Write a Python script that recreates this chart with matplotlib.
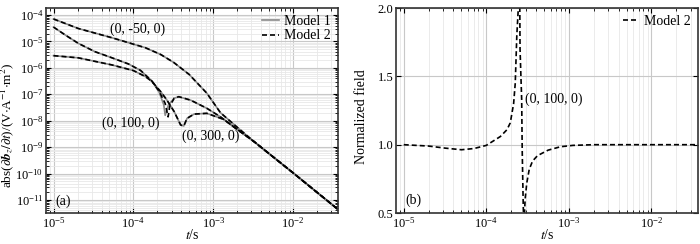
import numpy as np
from matplotlib import pyplot as plt
from matplotlib.ticker import LogLocator, NullFormatter

plt.rcParams['font.family'] = ['Liberation Serif', 'DejaVu Serif']
plt.rcParams['mathtext.fontset'] = 'stix'
plt.rcParams['font.size'] = 10

# (a) abs(dbz/dt), Model 1
t_50 = [1.0e-5, 2.04e-5, 5.4e-5, 1.41e-4, 2.2e-4, 3.2e-4, 5.0e-4, 8.3e-4, 1.23e-3, 2.0e-3, 3.2e-3, 1.0e-2, 3.6e-2]
b_50 = [7.1e-5, 3.1e-5, 1.38e-5, 5.8e-6, 3.2e-6, 1.6e-6, 5.6e-7, 1.1e-7, 2.0e-8, 5.6e-9, 1.66e-9, 1.05e-10, 4.5e-12]

t_100 = [1.0e-5, 1.41e-5, 2.04e-5, 3.3e-5, 5.4e-5, 8.7e-5, 1.23e-4, 1.7e-4, 2.1e-4, 2.4e-4, 2.5e-4,
         2.75e-4, 3.24e-4, 3.7e-4, 5.2e-4, 8.3e-4, 1.23e-3, 2.0e-3, 3.2e-3, 1.0e-2, 3.6e-2]
b_100 = [3.5e-5, 1.74e-5, 8.5e-6, 4.1e-6, 2.4e-6, 1.4e-6, 8.0e-7, 3.2e-7, 1.2e-7, 4.0e-8, 1.6e-8,
         4.0e-8, 7.1e-8, 8.1e-8, 6.0e-8, 2.95e-8, 1.4e-8, 4.6e-9, 1.66e-9, 1.05e-10, 4.5e-12]
# Model 2 for (0, 100, 0): zero crossing a little later
t_100_m2 = [1.0e-5, 1.41e-5, 2.04e-5, 3.3e-5, 5.4e-5, 8.7e-5, 1.23e-4, 1.7e-4, 2.1e-4, 2.5e-4, 2.72e-4,
            2.85e-4, 3.24e-4, 3.7e-4, 5.2e-4, 8.3e-4, 1.23e-3, 2.0e-3, 3.2e-3, 1.0e-2, 3.6e-2]
b_100_m2 = [3.5e-5, 1.74e-5, 8.5e-6, 4.1e-6, 2.4e-6, 1.4e-6, 8.0e-7, 3.2e-7, 1.3e-7, 4.5e-8, 1.4e-8,
            3.5e-8, 7.1e-8, 8.1e-8, 6.0e-8, 2.95e-8, 1.4e-8, 4.6e-9, 1.66e-9, 1.05e-10, 4.5e-12]

t_300 = [1.0e-5, 2.04e-5, 5.4e-5, 1.0e-4, 1.41e-4, 1.7e-4, 2.2e-4, 2.63e-4, 3.24e-4, 3.9e-4, 4.27e-4,
         4.7e-4, 5.75e-4, 8.3e-4, 1.35e-3, 2.0e-3, 3.2e-3, 1.0e-2, 3.6e-2]
b_300 = [2.9e-6, 2.4e-6, 1.29e-6, 7.9e-7, 4.7e-7, 3.1e-7, 1.25e-7, 6.0e-8, 2.2e-8, 6.9e-9, 6.3e-9,
         1.23e-8, 1.78e-8, 1.9e-8, 1.12e-8, 4.7e-9, 1.66e-9, 1.05e-10, 4.5e-12]

# (b) normalized field (Model 2 / Model 1) at (0, 100, 0)
t_norm = [1.0e-5, 2.0e-5, 3.16e-5, 5.0e-5, 7.1e-5, 1.0e-4, 1.48e-4, 1.78e-4, 1.95e-4, 2.14e-4, 2.24e-4,
          2.34e-4, 2.44e-4, 2.51e-4, 2.56e-4, 2.68e-4, 2.72e-4, 2.80e-4, 2.85e-4, 2.95e-4, 3.09e-4,
          3.31e-4, 3.63e-4, 4.17e-4, 5.6e-4, 7.9e-4, 1.12e-3, 2.0e-3, 1.0e-2, 3.6e-2]
v_norm = [1.0, 0.99, 0.975, 0.963, 0.972, 0.995, 1.06, 1.11, 1.16, 1.30, 1.45,
          1.80, 2.0, 2.6, 1.70, 1.33, 0.96, 0.55, 0.40, 0.60, 0.72,
          0.82, 0.88, 0.92, 0.96, 0.985, 0.995, 1.0, 1.0, 1.0]

xlim = (8.1e-6, 3.65e-2)
c_grid = '#c8c8c8'
c_minor = '#e8e8e8'
m1 = dict(color='#8a8a8a', lw=1.2, ls='-')
m2 = dict(color='black', lw=1.2, ls=(0, (3, 1.8)))

fig = plt.figure(figsize=(7.0, 2.44), dpi=100)
ax1 = fig.add_axes([0.066, 0.127, 0.417, 0.840])
ax2 = fig.add_axes([0.566, 0.127, 0.431, 0.840])


def style_axes(ax):
    ax.tick_params(which='both', direction='in', top=True, right=True, labelsize=9, pad=2)
    ax.tick_params(which='major', length=3.5, width=0.8)
    ax.tick_params(which='minor', length=2, width=0.6)
    for s in ax.spines.values():
        s.set_linewidth(1.2)
        s.set_color('#333333')


# 그래프 (a)
ax1.plot(t_50, b_50, label='Model 1', **m1)
ax1.plot(t_100, b_100, **m1)
ax1.plot(t_300, b_300, **m1)
ax1.plot(t_50, b_50, label='Model 2', **m2)
ax1.plot(t_100_m2, b_100_m2, **m2)
ax1.plot(t_300, b_300, **m2)
ax1.set_xscale('log')
ax1.set_yscale('log')
ax1.set_xlim(*xlim)
ax1.set_ylim(3.2e-12, 1.84e-4)
for axis in (ax1.xaxis, ax1.yaxis):
    axis.set_major_locator(LogLocator(base=10, numticks=20))
    axis.set_minor_locator(LogLocator(base=10, subs=np.arange(2, 10), numticks=100))
    axis.set_minor_formatter(NullFormatter())
ax1.grid(True, which='minor', color=c_minor, lw=0.6)
ax1.grid(True, which='major', color=c_grid, lw=0.8)
ax1.set_axisbelow(True)
style_axes(ax1)
ax1.set_xlabel(r'$t$/s', fontsize=10)
ax1.xaxis.set_label_coords(0.5, -0.075)
ax1.set_ylabel(r'abs($\partial\mathbfit{b}_z/\partial t$)/(V$\cdot$A$^{-1}$$\cdot$m$^2$)', fontsize=9.5)
ax1.yaxis.set_label_coords(-0.104, 0.43)
ax1.text(5.1e-5, 2.95e-5, '(0, -50, 0)', va='center', fontsize=10)
ax1.text(4.05e-5, 7.9e-9, '(0, 100, 0)', va='center', fontsize=10)
ax1.text(4.08e-4, 2.5e-9, '(0, 300, 0)', va='center', fontsize=10)
ax1.text(0.031, 0.055, '(a)', transform=ax1.transAxes, va='center', fontsize=10)
ax1.legend(loc='upper right', frameon=False, handlelength=1.2, handletextpad=0.4,
           borderaxespad=0.1, labelspacing=0.1, fontsize=10)

# 그래프 (b)
ax2.plot(t_norm, v_norm, label='Model 2', **m2)
ax2.set_xscale('log')
ax2.set_xlim(*xlim)
ax2.set_ylim(0.5, 2.0)
ax2.set_yticks([0.5, 1.0, 1.5, 2.0])
ax2.set_yticklabels(['0.5', '1.0', '1.5', '2.0'])
ax2.xaxis.set_major_locator(LogLocator(base=10, numticks=20))
ax2.xaxis.set_minor_locator(LogLocator(base=10, subs=np.arange(2, 10), numticks=100))
ax2.xaxis.set_minor_formatter(NullFormatter())
ax2.grid(True, which='minor', axis='x', color=c_minor, lw=0.6)
ax2.grid(True, which='major', color=c_grid, lw=0.8)
ax2.set_axisbelow(True)
style_axes(ax2)
ax2.set_xlabel(r'$t$/s', fontsize=10)
ax2.xaxis.set_label_coords(0.5, -0.075)
ax2.set_ylabel('Normalized field', fontsize=10)
ax2.yaxis.set_label_coords(-0.093, 0.47)
ax2.text(2.94e-4, 1.33, '(0, 100, 0)', va='center', fontsize=10)
ax2.text(0.03, 0.063, '(b)', transform=ax2.transAxes, va='center', fontsize=10)
ax2.legend(loc='upper right', frameon=False, handlelength=1.1, handletextpad=0.4,
           borderaxespad=0.1, fontsize=10)

fig.savefig('out.png', dpi=100)
